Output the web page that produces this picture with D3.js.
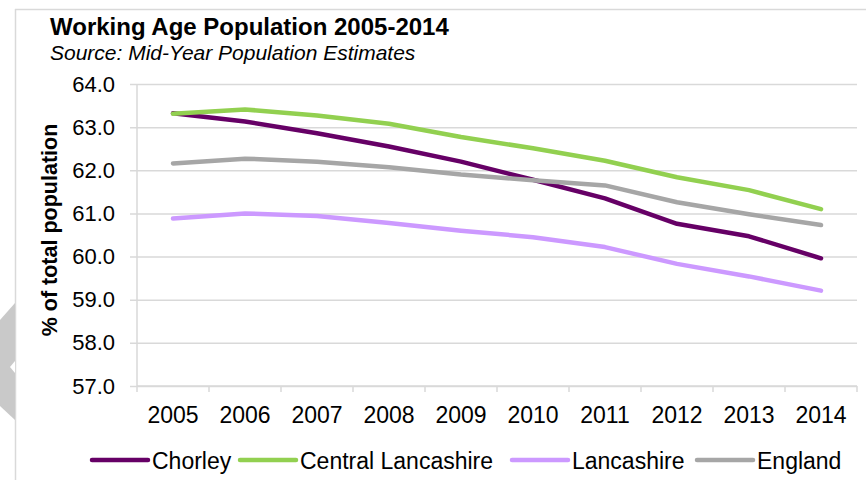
<!DOCTYPE html>
<html>
<head>
<meta charset="utf-8">
<script src="https://cdn.jsdelivr.net/npm/d3@7/dist/d3.min.js"></script>
<style>
  html, body { margin: 0; padding: 0; background: #fff; }
  svg { display: block; font-family: "Liberation Sans", Arial, sans-serif; }
</style>
</head>
<body>
<svg id="chart" width="866" height="480"></svg>
<script>
// Working age population as % of total population, 2005-2014
const years = ["2005", "2006", "2007", "2008", "2009", "2010", "2011", "2012", "2013", "2014"];
const chorley = [63.32, 63.13, 62.86, 62.55, 62.20, 61.78, 61.35, 60.76, 60.47, 59.96];
const centralLancashire = [63.31, 63.41, 63.27, 63.08, 62.77, 62.51, 62.22, 61.84, 61.54, 61.10];
const lancashire = [60.88, 61.00, 60.94, 60.78, 60.60, 60.45, 60.22, 59.83, 59.54, 59.21];
const england = [62.16, 62.27, 62.20, 62.07, 61.90, 61.77, 61.65, 61.26, 60.98, 60.73];
const yTicks = [57, 58, 59, 60, 61, 62, 63, 64];

const seriesNames = ["Chorley", "Central Lancashire", "Lancashire", "England"];
const seriesValues = [chorley, centralLancashire, lancashire, england];
const seriesColors = ["#660066", "#92d050", "#cc99ff", "#a6a6a6"];

const svg = d3.select("#chart");
const gridColor = "#d9d9d9";

// outer frame edges
svg.append("line").attr("x1", 15).attr("x2", 866).attr("y1", 9.5).attr("y2", 9.5)
  .attr("stroke", gridColor).attr("stroke-width", 1.5);
svg.append("line").attr("x1", 15.5).attr("x2", 15.5).attr("y1", 9).attr("y2", 480)
  .attr("stroke", gridColor).attr("stroke-width", 1.5);

// side navigation tab
svg.append("polygon").attr("points", "15,303 0,320 0,406 15,420").attr("fill", "#c9c9c9");
svg.append("polygon").attr("points", "15,361 10,367 15,373").attr("fill", "#ffffff");

// title block
svg.append("text").attr("x", 50).attr("y", 35)
  .attr("font-size", 24).attr("font-weight", "bold").attr("fill", "#000")
  .text("Working Age Population 2005-2014");
svg.append("text").attr("x", 50).attr("y", 60)
  .attr("font-size", 21).attr("font-style", "italic").attr("fill", "#000")
  .text("Source: Mid-Year Population Estimates");

const plotLeft = 137, plotRight = 857, plotTop = 84, plotBottom = 386;
const x = d3.scaleBand().domain(years).range([plotLeft, plotRight]);
const y = d3.scaleLinear().domain([57, 64]).range([plotBottom, plotTop]);

// horizontal gridlines with outward ticks
const yAxis = d3.axisLeft(y).tickValues(yTicks)
  .tickSize(-(plotRight - plotLeft)).tickSizeOuter(0)
  .tickFormat(d3.format(".1f")).tickPadding(22);
const gy = svg.append("g").attr("transform", `translate(${plotLeft},0)`).call(yAxis);
gy.select(".domain").remove();
gy.selectAll(".tick line").attr("x1", -7).attr("stroke", gridColor).attr("stroke-width", 1.5);
gy.selectAll(".tick text").attr("font-size", 22).attr("fill", "#000")
  .attr("font-family", "Liberation Sans, Arial, sans-serif");

// vertical axis line
svg.append("line").attr("x1", plotLeft).attr("x2", plotLeft).attr("y1", plotTop).attr("y2", plotBottom)
  .attr("stroke", gridColor).attr("stroke-width", 1.5);

// category axis: line, boundary ticks, labels
svg.append("line").attr("x1", plotLeft).attr("x2", plotRight).attr("y1", plotBottom).attr("y2", plotBottom)
  .attr("stroke", gridColor).attr("stroke-width", 1.5);
const boundaries = years.map(d => x(d)).concat([x(years[years.length - 1]) + x.bandwidth()]);
svg.append("g").selectAll("line").data(boundaries).join("line")
  .attr("x1", d => d).attr("x2", d => d).attr("y1", plotBottom).attr("y2", plotBottom + 6)
  .attr("stroke", gridColor).attr("stroke-width", 1.5);
svg.append("g").selectAll("text").data(years).join("text")
  .attr("x", d => x(d) + x.bandwidth() / 2).attr("y", 423)
  .attr("text-anchor", "middle").attr("font-size", 23).attr("fill", "#000")
  .text(d => d);

// y axis title
svg.append("text")
  .attr("transform", "translate(57,230) rotate(-90)")
  .attr("text-anchor", "middle").attr("font-size", 21.5).attr("font-weight", "bold")
  .attr("fill", "#000").text("% of total population");

// series lines
const line = d3.line()
  .x((d, i) => x(years[i]) + x.bandwidth() / 2)
  .y(d => y(d));
seriesValues.forEach((vals, k) => {
  svg.append("path").datum(vals).attr("d", line)
    .attr("fill", "none").attr("stroke", seriesColors[k]).attr("stroke-width", 4.5)
    .attr("stroke-linecap", "round").attr("stroke-linejoin", "round");
});

// legend
const legendX = [92, 240, 512, 697];
const lg = svg.append("g").selectAll("g").data(seriesNames).join("g")
  .attr("transform", (d, i) => `translate(${legendX[i]},460)`);
lg.append("line").attr("x1", 0).attr("x2", 56).attr("y1", 0).attr("y2", 0)
  .attr("stroke", (d, i) => seriesColors[i]).attr("stroke-width", 4.5)
  .attr("stroke-linecap", "round");
lg.append("text").attr("x", 60).attr("y", 9).attr("font-size", 23).attr("fill", "#000")
  .text(d => d);
</script>
</body>
</html>
